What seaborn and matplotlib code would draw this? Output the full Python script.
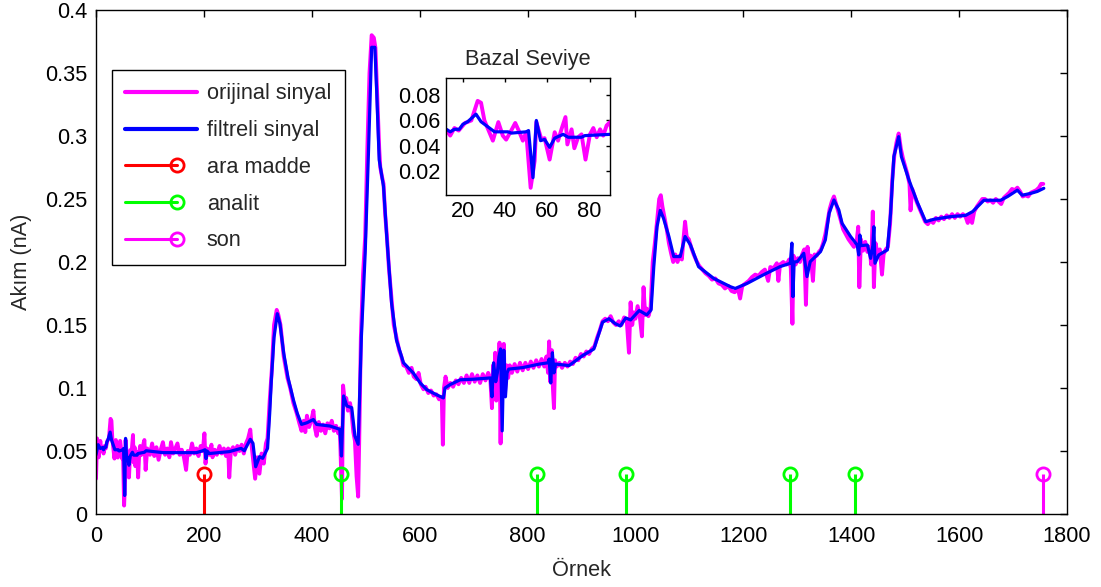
import matplotlib
matplotlib.use("Agg")
import matplotlib.pyplot as plt
from matplotlib.lines import Line2D
from matplotlib.legend_handler import HandlerBase
from matplotlib.ticker import FixedLocator, FuncFormatter
import seaborn as sns
import pandas as pd

# ---------------- data ----------------
# filtered signal (sample index, current in nA)
filt_x = [0, 4, 8, 12.4, 14, 16, 18.3, 20, 22.3, 26.2, 28.6, 31.8, 35, 41.3, 43, 50, 51.1, 53.2,
          54.8, 56.8, 58.7, 61.1, 63.5, 67.5, 69.9, 76.2, 77.8, 89.7,
          93, 124, 186, 198, 202, 204, 206, 210, 247, 269, 275, 286, 291, 296, 303, 309, 318, 322, 325,
          330, 336, 341, 348, 356, 366, 373, 381, 391, 403, 409, 434, 452, 455, 459, 465, 474, 480, 486,
          492, 499, 505, 511, 517, 520, 525, 533, 539, 548, 557, 570, 588, 601, 613, 631, 644, 647, 656, 675,
          700, 731, 734, 737, 741, 744, 747, 750, 753, 756, 759, 762, 765, 791, 822, 838, 840, 843, 846, 849,
          852, 877, 902, 923, 939, 951, 963, 972, 982, 991, 1007, 1021, 1029, 1034, 1040, 1046, 1052, 1062,
          1071, 1083, 1092, 1102, 1117, 1145, 1176, 1185, 1207, 1238, 1268, 1287, 1290, 1292, 1294, 1300,
          1312, 1318, 1324, 1343, 1352, 1359, 1368, 1377, 1383, 1399, 1411, 1414, 1416, 1418, 1430, 1436,
          1440, 1442, 1444, 1451, 1467, 1473, 1479, 1488, 1493, 1507, 1522, 1538, 1553, 1584, 1612, 1625,
          1646, 1677, 1690, 1708, 1717, 1733, 1745, 1757]
filt_y = [0.047, 0.055, 0.052, 0.0528, 0.051, 0.053, 0.053, 0.057, 0.059, 0.065, 0.059, 0.055, 0.051,
          0.051, 0.050, 0.051, 0.052, 0.0147, 0.060, 0.044, 0.045, 0.0387, 0.046, 0.049, 0.0467, 0.0467,
          0.048, 0.049,
          0.0502, 0.0487, 0.0487, 0.0502, 0.051, 0.044, 0.050, 0.048, 0.0495, 0.0521, 0.0502, 0.0593,
          0.0561, 0.0375, 0.0455, 0.0442, 0.0521, 0.080, 0.106,
          0.140, 0.159, 0.151, 0.1275, 0.108, 0.0905, 0.080, 0.0711, 0.0724, 0.0750, 0.0711, 0.0698,
          0.0672, 0.046, 0.0937, 0.0857, 0.0844, 0.0619, 0.0553,
          0.141, 0.207, 0.2857, 0.3704, 0.3704, 0.339, 0.281, 0.260, 0.220, 0.167, 0.138, 0.120, 0.112,
          0.104, 0.0987, 0.0947, 0.0921, 0.100, 0.1026, 0.1065,
          0.107, 0.108, 0.093, 0.120, 0.105, 0.112, 0.125, 0.131, 0.066, 0.130, 0.093, 0.112, 0.115,
          0.1162, 0.119, 0.120, 0.123, 0.104, 0.128, 0.112,
          0.119, 0.1178, 0.1257, 0.131, 0.1522, 0.155, 0.151, 0.1492, 0.1556, 0.154, 0.1615, 0.158,
          0.162, 0.1963, 0.228, 0.241, 0.2347, 0.2202,
          0.2043, 0.2043, 0.2202, 0.2136, 0.1963, 0.1870, 0.1804, 0.179, 0.183, 0.190, 0.1963, 0.199,
          0.215, 0.1725, 0.200, 0.2003,
          0.2069, 0.1884, 0.2003, 0.2082, 0.2175, 0.2386, 0.2492, 0.2413, 0.2307, 0.2201, 0.2135, 0.2056,
          0.2214, 0.213, 0.2135, 0.2029,
          0.213, 0.228, 0.199, 0.2056, 0.2096, 0.2386, 0.2836, 0.2995, 0.2836, 0.2651, 0.2479, 0.2320,
          0.2339, 0.236, 0.237, 0.240,
          0.249, 0.249, 0.252, 0.257, 0.253, 0.2545, 0.256, 0.2585]

# original (raw) signal
orig_x = [0, 2, 5, 8, 10, 12.4, 14, 16, 18, 21, 24, 27, 28.6, 30.2, 32.5, 34.2, 36.8, 38.9, 40.5, 42.9,
          44.8, 46.8, 48.4, 50, 52.1, 54, 54.8, 57.2, 58.7, 61.1, 63.5, 65.1, 66.7, 68.6, 69.5, 71.5, 72.8,
          74.6, 76.2, 78.1, 80.2, 81.8, 83.4, 85, 86.5, 88.1, 89.7,
          92, 95, 100, 104, 108, 112, 116, 120, 124, 128, 132, 136, 139, 143, 147, 151, 155, 159, 163, 167,
          170, 174, 178, 182, 186, 190, 194, 198, 201, 203, 206, 210, 214, 216, 220, 224, 229, 233, 237, 241,
          245, 247, 250, 254, 258, 262, 266, 270, 274, 278, 282, 286, 289, 292, 295, 299, 303, 307, 311, 315,
          318, 322, 326,
          330, 335, 338, 342, 348, 355, 360, 366, 372, 377, 381, 385, 388, 391, 395, 399, 403, 406, 409, 413,
          417, 421, 425, 429, 433, 437, 441, 445, 449, 452, 454, 456, 458, 461, 464, 467, 471, 474, 477, 480,
          483, 486, 488, 491, 495, 499, 503, 507, 511, 515, 518, 521, 525, 527,
          530, 533, 536, 539, 543, 548, 552, 557, 562, 566, 570, 575, 580, 585, 589, 594, 598, 602, 607, 611,
          616, 621, 626, 631, 636, 641, 643, 645, 648, 652, 657, 662, 667, 672, 677,
          682, 687, 692, 697, 702, 707, 712, 717, 722, 727, 731, 734, 736, 738, 740, 742, 744, 746, 748, 750,
          752, 754, 756, 758, 761, 764, 767, 771, 776, 781, 786, 791, 796, 801, 806, 811, 816, 821, 826, 831,
          835, 838, 840, 842, 845, 847, 849, 851, 854, 859, 864, 869, 874, 879, 884, 889, 894, 899, 904, 909,
          914, 919, 924, 929, 934, 939, 944, 949, 954, 959, 964, 969, 974, 979, 984, 988, 991, 994, 997,
          1000, 1004, 1008, 1012, 1015, 1018, 1021, 1024, 1028,
          1032, 1036, 1040, 1044, 1047, 1050, 1054, 1058, 1062, 1066, 1070, 1074, 1078, 1082, 1086, 1089,
          1092, 1095, 1099, 1103, 1108, 1113, 1118, 1124, 1130, 1136, 1142, 1148, 1154, 1160, 1166, 1172,
          1178, 1184, 1190, 1194, 1198, 1204, 1210, 1216, 1222, 1228, 1234, 1240, 1246, 1250, 1256, 1262,
          1265, 1268, 1274, 1280, 1285, 1288, 1291, 1293, 1297, 1301, 1305, 1309, 1313, 1316, 1319, 1322,
          1325, 1329, 1332, 1336, 1340, 1344, 1348, 1352, 1356,
          1360, 1364, 1368, 1372, 1376, 1380, 1385, 1390, 1395, 1400, 1405, 1410, 1413, 1415, 1418, 1422,
          1426, 1430, 1434, 1437, 1440, 1442, 1445, 1449, 1453, 1457, 1460, 1464, 1468, 1472, 1476, 1480,
          1484, 1488, 1492, 1496, 1500, 1504, 1508, 1510, 1513, 1518, 1522, 1527, 1532, 1537, 1542, 1547,
          1552, 1557, 1562, 1567, 1572, 1577, 1582, 1587, 1592, 1597, 1602, 1607, 1612, 1616, 1620, 1624,
          1628, 1633, 1638, 1643, 1648, 1653, 1658, 1663, 1668, 1673, 1678, 1683, 1688, 1693, 1698, 1703,
          1708, 1713, 1718, 1723, 1728, 1733, 1738, 1743, 1748, 1752, 1756]
orig_y = [0.028, 0.060, 0.045, 0.058, 0.050, 0.052, 0.048, 0.054, 0.052, 0.058, 0.060, 0.0755, 0.074,
          0.060, 0.0507, 0.044, 0.0587, 0.048, 0.0448, 0.052, 0.058, 0.0507, 0.044, 0.0507, 0.0067, 0.028,
          0.0587, 0.045, 0.046, 0.029, 0.0507, 0.044, 0.053, 0.0627, 0.041, 0.053, 0.038, 0.0467, 0.049,
          0.029, 0.049, 0.054, 0.0467, 0.053, 0.048, 0.056, 0.0587,
          0.035, 0.052, 0.047, 0.056, 0.046, 0.053, 0.043, 0.051, 0.057, 0.047, 0.052, 0.045, 0.057, 0.048,
          0.052, 0.056, 0.047, 0.051, 0.045, 0.035, 0.050, 0.047, 0.056, 0.048, 0.052, 0.046, 0.054, 0.050,
          0.064, 0.040, 0.052, 0.047, 0.055, 0.045, 0.051, 0.047, 0.054, 0.048, 0.052, 0.046, 0.052, 0.029,
          0.050, 0.053, 0.047, 0.054, 0.050, 0.055, 0.048, 0.056, 0.060, 0.067, 0.052, 0.040, 0.028, 0.045,
          0.032, 0.048, 0.040, 0.056, 0.060, 0.090, 0.115,
          0.150, 0.162, 0.158, 0.150, 0.125, 0.108, 0.100, 0.088, 0.080, 0.072, 0.066, 0.074, 0.065, 0.078,
          0.069, 0.074, 0.082, 0.068, 0.062, 0.073, 0.066, 0.071, 0.064, 0.072, 0.068, 0.074, 0.066, 0.070,
          0.064, 0.068, 0.040, 0.012, 0.102, 0.090, 0.092, 0.082, 0.088, 0.079, 0.065, 0.058, 0.030, 0.0138,
          0.060, 0.140, 0.190, 0.220, 0.290, 0.350, 0.380, 0.378, 0.370, 0.335, 0.290, 0.275,
          0.268, 0.262, 0.238, 0.222, 0.195, 0.170, 0.150, 0.140, 0.130, 0.125, 0.118, 0.117, 0.112, 0.116,
          0.109, 0.107, 0.112, 0.103, 0.099, 0.101, 0.096, 0.098, 0.094, 0.095, 0.091, 0.093, 0.055, 0.100,
          0.109, 0.100, 0.104, 0.101, 0.106, 0.103, 0.108,
          0.104, 0.110, 0.104, 0.111, 0.105, 0.110, 0.104, 0.111, 0.106, 0.112, 0.107, 0.084, 0.118, 0.100,
          0.128, 0.090, 0.120, 0.095, 0.136, 0.056, 0.125, 0.100, 0.135, 0.095, 0.118, 0.108, 0.118, 0.112,
          0.119, 0.113, 0.120, 0.114, 0.120, 0.115, 0.121, 0.116, 0.122, 0.117, 0.123, 0.117, 0.125, 0.112,
          0.137, 0.105, 0.130, 0.100, 0.084, 0.122, 0.117, 0.120, 0.116, 0.120, 0.117, 0.121, 0.119, 0.124,
          0.122, 0.127, 0.125, 0.129, 0.127, 0.131, 0.133, 0.140, 0.146, 0.153, 0.155, 0.153, 0.157, 0.152,
          0.150, 0.153, 0.150, 0.156, 0.153, 0.128, 0.168, 0.150, 0.160, 0.155, 0.165, 0.157, 0.141, 0.180,
          0.158, 0.163, 0.157, 0.163,
          0.200, 0.215, 0.232, 0.250, 0.253, 0.244, 0.235, 0.226, 0.215, 0.207, 0.200, 0.206, 0.200, 0.205,
          0.202, 0.218, 0.232, 0.220, 0.218, 0.212, 0.206, 0.201, 0.197, 0.194, 0.191, 0.189, 0.186, 0.187,
          0.183, 0.182, 0.179, 0.181, 0.177, 0.176, 0.179, 0.171, 0.181, 0.183, 0.185, 0.188, 0.190, 0.189,
          0.192, 0.194, 0.185, 0.196, 0.195, 0.199, 0.185, 0.198, 0.200, 0.198, 0.202, 0.195, 0.151, 0.205,
          0.198, 0.203, 0.200, 0.206, 0.210, 0.166, 0.212, 0.200, 0.205, 0.185, 0.206, 0.205, 0.208, 0.210,
          0.215, 0.222, 0.232,
          0.242, 0.248, 0.252, 0.246, 0.240, 0.234, 0.226, 0.222, 0.218, 0.215, 0.212, 0.216, 0.228, 0.180,
          0.218, 0.209, 0.216, 0.208, 0.212, 0.198, 0.240, 0.180, 0.215, 0.206, 0.210, 0.190, 0.206, 0.210,
          0.212, 0.230, 0.265, 0.285, 0.295, 0.302, 0.290, 0.282, 0.276, 0.270, 0.262, 0.241, 0.258, 0.252,
          0.247, 0.242, 0.237, 0.232, 0.230, 0.233, 0.231, 0.235, 0.233, 0.236, 0.234, 0.237, 0.235, 0.238,
          0.235, 0.238, 0.236, 0.238, 0.236, 0.231, 0.238, 0.231, 0.240, 0.244, 0.247, 0.250, 0.250, 0.248,
          0.249, 0.247, 0.250, 0.248, 0.246, 0.251, 0.253, 0.255, 0.258, 0.257, 0.259, 0.256, 0.252, 0.253,
          0.252, 0.255, 0.256, 0.257, 0.259, 0.262, 0.262]

# event markers
ara_madde_x = [200]
ara_madde_y = [0.032]
analit_x = [455, 818, 983, 1287, 1407]
analit_y = [0.032, 0.032, 0.032, 0.032, 0.032]
son_x = [1756]
son_y = [0.032]

main_xticks = [0, 200, 400, 600, 800, 1000, 1200, 1400, 1600, 1800]
main_yticks = [0, 0.05, 0.1, 0.15, 0.2, 0.25, 0.3, 0.35, 0.4]
inset_xticks = [20, 40, 60, 80]
inset_yticks = [0.02, 0.04, 0.06, 0.08]

labels = ["orijinal sinyal", "filtreli sinyal", "ara madde", "analit", "son"]

# ---------------- style ----------------
sns.set_theme(style="white")
plt.rcParams["font.family"] = ["Liberation Sans", "DejaVu Sans"]
plt.rcParams["axes.edgecolor"] = "black"
plt.rcParams["axes.linewidth"] = 1.0

MAG = "#FF00FF"
BLU = "#0000FF"
RED = "#FF0000"
GRN = "#00FF00"
FS = 15.7

orig_df = pd.DataFrame({"x": orig_x, "y": orig_y})
filt_df = pd.DataFrame({"x": filt_x, "y": filt_y})

fig = plt.figure(figsize=(11.01, 5.87), dpi=100)
ax = fig.add_axes([96 / 1101, 1 - 514 / 587, (1067 - 96) / 1101, (514 - 10) / 587])


def draw_signals(a, lw_o, lw_f):
    sns.lineplot(data=orig_df, x="x", y="y", ax=a, color=MAG, lw=lw_o, estimator=None,
                 sort=False, legend=False)
    sns.lineplot(data=filt_df, x="x", y="y", ax=a, color=BLU, lw=lw_f, estimator=None,
                 sort=False, legend=False)


draw_signals(ax, 2.8, 2.3)

for xs, ys, c in [(ara_madde_x, ara_madde_y, RED), (analit_x, analit_y, GRN), (son_x, son_y, MAG)]:
    ml, sl, bl = ax.stem(xs, ys, basefmt=" ")
    plt.setp(sl, color=c, lw=2.2)
    plt.setp(ml, color=c, marker="o", ms=9.5, mfc="none", mec=c, mew=2.0)

ax.set_xlim(0, 1800)
ax.set_ylim(0, 0.4)
ax.xaxis.set_major_locator(FixedLocator(main_xticks))
ax.yaxis.set_major_locator(FixedLocator(main_yticks))
ax.yaxis.set_major_formatter(FuncFormatter(lambda v, p: f"{v:g}"))
ax.tick_params(direction="in", top=True, right=True, length=5, width=1, labelsize=FS,
               colors="black", pad=6)
ax.tick_params(axis="x", pad=9)
ax.set_xlabel("Örnek", fontsize=FS, labelpad=9)
ax.set_ylabel("Akım (nA)", fontsize=FS, labelpad=10)
for s in ax.spines.values():
    s.set_color("black")
    s.set_linewidth(1.0)


class StemLegendHandler(HandlerBase):
    def create_artists(self, legend, orig_handle, xdescent, ydescent, width, height,
                       fontsize, trans):
        y = height / 2 - ydescent
        xm = -xdescent + 0.72 * width
        c = orig_handle.get_color()
        line = Line2D([-xdescent, xm], [y, y], color=c, lw=orig_handle.get_linewidth(),
                      transform=trans)
        mk = Line2D([xm], [y], marker="o", ms=orig_handle.get_markersize(), mfc="none",
                    mec=c, mew=orig_handle.get_markeredgewidth(), ls="none", transform=trans)
        return [line, mk]


h_orig = Line2D([], [], color=MAG, lw=3.0)
h_filt = Line2D([], [], color=BLU, lw=3.0)
h_ara = Line2D([], [], color=RED, lw=2.2, marker="o", ms=9.5, mew=2.0)
h_ana = Line2D([], [], color=GRN, lw=2.2, marker="o", ms=9.5, mew=2.0)
h_son = Line2D([], [], color=MAG, lw=2.2, marker="o", ms=9.5, mew=2.0)
stem_handler = StemLegendHandler()
leg = ax.legend([h_orig, h_filt, h_ara, h_ana, h_son], labels, loc="upper left",
                bbox_to_anchor=(0.016, 0.881), borderaxespad=0, fontsize=FS, frameon=True,
                fancybox=False, framealpha=1, edgecolor="black", handlelength=3.3,
                handletextpad=0.45, borderpad=0.62, labelspacing=0.72,
                handler_map={h_ara: stem_handler, h_ana: stem_handler, h_son: stem_handler})
leg.get_frame().set_linewidth(1.0)

# inset: baseline level
ins = fig.add_axes([446 / 1101, 1 - 195 / 587, (610 - 446) / 1101, (195 - 78) / 587])
draw_signals(ins, 2.8, 2.3)
ins.set_xlim(12, 89.7)
ins.set_ylim(0.001, 0.0936)
ins.xaxis.set_major_locator(FixedLocator(inset_xticks))
ins.yaxis.set_major_locator(FixedLocator(inset_yticks))
ins.yaxis.set_major_formatter(FuncFormatter(lambda v, p: f"{v:.2f}"))
ins.tick_params(direction="in", top=True, right=True, length=3, width=1, labelsize=FS,
                colors="black", pad=4)
ins.set_xlabel("")
ins.set_ylabel("")
ins.set_title("Bazal Seviye", fontsize=FS, pad=9)
for s in ins.spines.values():
    s.set_color("black")
    s.set_linewidth(1.0)

fig.savefig("out.png", dpi=100)
